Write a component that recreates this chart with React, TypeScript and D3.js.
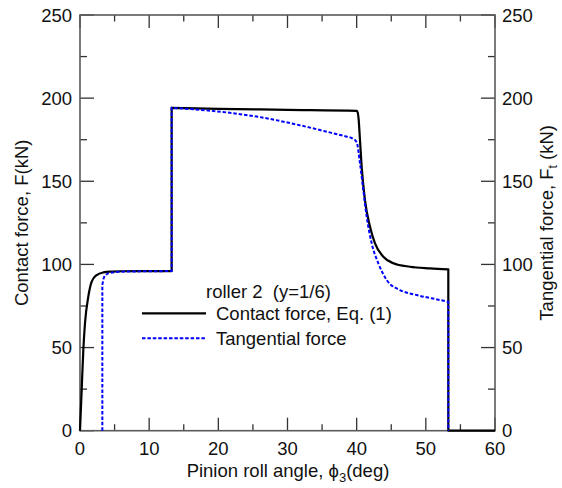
import React from "react";
import * as d3 from "d3";

const contactX = [0, 0.24, 0.48, 0.72, 1.2, 1.69, 2.41, 3.37, 4.5, 6, 13.25, 13.25, 20, 30, 40.0, 40.14, 40.28, 40.48, 40.72, 41.2, 41.93, 42.65, 43.85, 45.3, 47.7, 50.6, 53.25, 53.25, 60];
const contactY = [0, 24.5, 48.5, 64.6, 80.6, 89.6, 93.6, 95.2, 95.7, 95.9, 96, 194.2, 193.6, 193.0, 192.4, 191.5, 187.5, 174.8, 158.8, 138.7, 122.7, 112.7, 104.6, 100.7, 98.6, 97.6, 97.0, 0, 0];

const tangentX = [3.23, 3.23, 3.47, 4.1, 5.8, 13.25, 13.25, 16.4, 21.2, 26.0, 30.8, 35.7, 38.6, 39.3, 40.0, 40.48, 40.96, 41.45, 42.17, 43.13, 44.34, 46.26, 48.67, 52.05, 53.25, 53.25];
const tangentY = [0, 87.6, 92.2, 94.6, 95.6, 96, 194.2, 193.3, 191.4, 188.6, 184.6, 179.8, 176.8, 176.0, 173.5, 160.8, 144.7, 128.7, 112.7, 100.7, 90.6, 84.6, 81.6, 78.6, 77.5, 0];

const xTicks = [0, 10, 20, 30, 40, 50, 60];
const xMinor = [5, 15, 25, 35, 45, 55];
const yTicks = [0, 50, 100, 150, 200, 250];
const yMinor = [25, 75, 125, 175, 225];

const legendTitle = "roller 2  (y=1/6)";
const legendLabels = ["Contact force, Eq. (1)", "Tangential force"];

const W = 562, H = 488;
const L = 80, R = 495, T = 15, B = 430.7;
const FONT = "'Liberation Sans', Arial, sans-serif";
const FS = 18.5;

export default function App() {
  const x = d3.scaleLinear().domain([0, 60]).range([L, R]);
  const y = d3.scaleLinear().domain([0, 250]).range([B, T]);

  // split at vertical jumps, draw each smooth piece with a monotone curve, join into one path
  const buildPath = (xs: number[], ys: number[]) => {
    const pieces: [number, number][][] = [];
    let cur: [number, number][] = [];
    xs.forEach((v, i) => {
      if (cur.length && cur[cur.length - 1][0] === v) {
        pieces.push(cur);
        cur = [];
      }
      cur.push([v, ys[i]]);
    });
    pieces.push(cur);
    const ln = d3.line<[number, number]>().x(d => x(d[0])).y(d => y(d[1])).curve(d3.curveMonotoneX);
    return pieces
      .map((p, i) => {
        const s = (ln(p) || "").replace(/Z/g, "");
        return i === 0 ? s : "L" + s.slice(1);
      })
      .join("");
  };

  const axisColor = "#5a5a5a";
  const tickColor = "#333";
  return (
    <svg width={W} height={H} style={{ position: "absolute", left: 0, top: 0, background: "#fff" }} fontFamily={FONT}>
      {xTicks.map(t => (
        <g key={"xt" + t}>
          <line x1={x(t)} x2={x(t)} y1={B} y2={B - 13} stroke={tickColor} strokeWidth={1.3} />
          <line x1={x(t)} x2={x(t)} y1={T} y2={T + 13} stroke={tickColor} strokeWidth={1.3} />
          <text x={x(t)} y={455} fontSize={FS} textAnchor="middle" fill="#111">{t}</text>
        </g>
      ))}
      {xMinor.map(t => (
        <g key={"xm" + t}>
          <line x1={x(t)} x2={x(t)} y1={B} y2={B - 6.5} stroke={tickColor} strokeWidth={1.3} />
          <line x1={x(t)} x2={x(t)} y1={T} y2={T + 6.5} stroke={tickColor} strokeWidth={1.3} />
        </g>
      ))}
      {yTicks.map(t => (
        <g key={"yt" + t}>
          <line x1={L} x2={L + 14} y1={y(t)} y2={y(t)} stroke={tickColor} strokeWidth={1.3} />
          <line x1={R} x2={R - 14} y1={y(t)} y2={y(t)} stroke={tickColor} strokeWidth={1.3} />
          <text x={72} y={y(t)} dy="0.36em" fontSize={FS} textAnchor="end" fill="#111">{t}</text>
          <text x={502} y={y(t)} dy="0.36em" fontSize={FS} textAnchor="start" fill="#111">{t}</text>
        </g>
      ))}
      {yMinor.map(t => (
        <g key={"ym" + t}>
          <line x1={L} x2={L + 7} y1={y(t)} y2={y(t)} stroke={tickColor} strokeWidth={1.3} />
          <line x1={R} x2={R - 7} y1={y(t)} y2={y(t)} stroke={tickColor} strokeWidth={1.3} />
        </g>
      ))}
      <rect x={L} y={T} width={R - L} height={B - T} fill="none" stroke={axisColor} strokeWidth={1.6} />

      <path d={buildPath(contactX, contactY)} fill="none" stroke="#000" strokeWidth={2.2} strokeLinejoin="round" />
      <path d={buildPath(tangentX, tangentY)} fill="none" stroke="#0000ff" strokeWidth={2} strokeDasharray="3.5 1.9" />

      <text x={206} y={298} fontSize={FS} fill="#111" style={{ whiteSpace: "pre" }}>{legendTitle}</text>
      <line x1={142} x2={206} y1={313.3} y2={313.3} stroke="#000" strokeWidth={2.2} />
      <text x={216} y={319.5} fontSize={FS} fill="#111">{legendLabels[0]}</text>
      <line x1={142} x2={206} y1={338.3} y2={338.3} stroke="#0000ff" strokeWidth={2} strokeDasharray="3.5 1.9" />
      <text x={216} y={344.5} fontSize={FS} fill="#111">{legendLabels[1]}</text>

      <text x={288} y={477} fontSize={FS} textAnchor="middle" fill="#111">
        Pinion roll angle, <tspan>ϕ</tspan>
        <tspan fontSize={13} dy={5}>3</tspan>
        <tspan dy={-5}>(deg)</tspan>
      </text>
      <text transform={`translate(28,${(T + B) / 2}) rotate(-90)`} fontSize={FS} textAnchor="middle" fill="#111">
        Contact force, F(kN)
      </text>
      <text transform={`translate(553,${(T + B) / 2}) rotate(-90)`} fontSize={FS} textAnchor="middle" fill="#111">
        Tangential force, F<tspan fontSize={12} dy={4}>t</tspan><tspan dy={-4}> (kN)</tspan>
      </text>
    </svg>
  );
}
